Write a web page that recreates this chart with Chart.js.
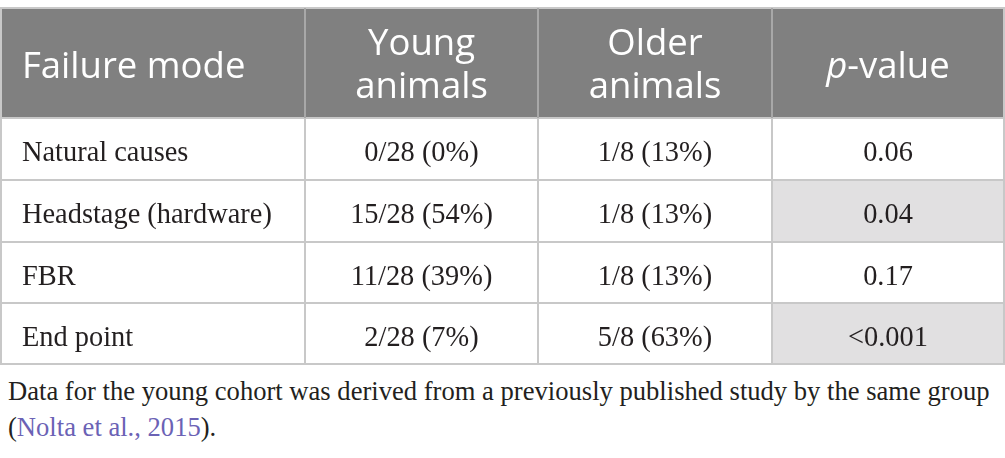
<!DOCTYPE html>
<html>
<head>
<meta charset="utf-8">
<script src="https://cdn.jsdelivr.net/npm/chart.js@4.4.1/dist/chart.umd.min.js"></script>
<style>
  html, body { margin: 0; padding: 0; background: #fff; }
  #wrap { position: relative; width: 1005px; height: 458px; }
  #box { position: absolute; left: 0; top: 0; width: 1005px; height: 372px; }
  #note {
    position: absolute; left: 8px; top: 373px;
    font-family: "Liberation Serif", serif; font-size: 26.6px; line-height: 36px;
    color: #231f20; white-space: nowrap;
  }
  #note a { color: #6b62b5; text-decoration: none; }
</style>
</head>
<body>
<div id="wrap">
  <div id="box"><canvas id="tbl"></canvas></div>
  <div id="note">Data for the young cohort was derived from a previously published study by the same group<br>(<a href="#">Nolta et al., 2015</a>).</div>
</div>
<script>
// table content
const headers = [['Failure mode'], ['Young', 'animals'], ['Older', 'animals'], ['p-value']];
const failureModes = ['Natural causes', 'Headstage (hardware)', 'FBR', 'End point'];
const youngAnimals = ['0/28 (0%)', '15/28 (54%)', '11/28 (39%)', '2/28 (7%)'];
const olderAnimals = ['1/8 (13%)', '1/8 (13%)', '1/8 (13%)', '5/8 (63%)'];
const pValues = ['0.06', '0.04', '0.17', '<0.001'];
const significant = [false, true, false, true];

// layout (in scale units = px of the 1005 wide box)
const colEdges = [1, 305, 538, 772, 1004];
const rowEdges = [8, 118, 180, 242, 303, 364];

const columns = [failureModes, youngAnimals, olderAnimals, pValues];

// one point per cell, sitting at the cell centre
const datasets = columns.map((col, c) => ({
  label: 'col' + c,
  data: [headers[c].join(' ')].concat(col).map((txt, r) => ({
    x: (colEdges[c] + colEdges[c + 1]) / 2,
    y: (rowEdges[r] + rowEdges[r + 1]) / 2,
    text: txt
  })),
  pointRadius: 0,
  pointHoverRadius: 0
}));

const HEAD_FONT = '36.5px "Open Sans"';
const HEAD_FONT_IT = 'italic 36.5px "Open Sans"';
const BODY_FONT = '28.4px "Liberation Serif"';

const tablePlugin = {
  id: 'tablePlugin',
  beforeDatasetsDraw(chart) {
    const { ctx, scales: { x, y } } = chart;
    ctx.save();
    for (let r = 0; r < rowEdges.length - 1; r++) {
      for (let c = 0; c < colEdges.length - 1; c++) {
        const x0 = x.getPixelForValue(colEdges[c]);
        const x1 = x.getPixelForValue(colEdges[c + 1]);
        const y0 = y.getPixelForValue(rowEdges[r]);
        const y1 = y.getPixelForValue(rowEdges[r + 1]);
        let fill = '#ffffff';
        if (r === 0) fill = '#808080';
        else if (c === 3 && significant[r - 1]) fill = '#e1e0e1';
        ctx.fillStyle = fill;
        ctx.fillRect(x0, y0, x1 - x0, y1 - y0);
      }
    }
    // grid lines
    ctx.lineWidth = 2;
    ctx.strokeStyle = '#c8c8c8';
    const left = x.getPixelForValue(colEdges[0]);
    const right = x.getPixelForValue(colEdges[colEdges.length - 1]);
    const top = y.getPixelForValue(rowEdges[0]);
    const bottom = y.getPixelForValue(rowEdges[rowEdges.length - 1]);
    rowEdges.forEach(v => {
      const py = y.getPixelForValue(v);
      ctx.beginPath(); ctx.moveTo(left - 1, py); ctx.lineTo(right + 1, py); ctx.stroke();
    });
    colEdges.forEach((v, i) => {
      const px = x.getPixelForValue(v);
      // header separators look darker on the grey band
      ctx.strokeStyle = (i === 0 || i === colEdges.length - 1) ? '#c8c8c8' : '#a8a8a8';
      ctx.beginPath(); ctx.moveTo(px, top); ctx.lineTo(px, y.getPixelForValue(rowEdges[1])); ctx.stroke();
      ctx.strokeStyle = '#c8c8c8';
      ctx.beginPath(); ctx.moveTo(px, y.getPixelForValue(rowEdges[1])); ctx.lineTo(px, bottom); ctx.stroke();
    });
    ctx.restore();
  },
  afterDatasetsDraw(chart) {
    const { ctx } = chart;
    ctx.save();
    chart.data.datasets.forEach((ds, c) => {
      const meta = chart.getDatasetMeta(c);
      meta.data.forEach((pt, r) => {
        const cx = pt.x, cy = pt.y;
        const tx = c === 0 ? chart.scales.x.getPixelForValue(colEdges[0]) + 21 : cx;
        ctx.textAlign = c === 0 ? 'left' : 'center';
        ctx.textBaseline = 'alphabetic';
        if (r === 0) {
          ctx.fillStyle = '#ffffff';
          const lines = headers[c];
          if (c === 3) {
            ctx.font = HEAD_FONT_IT;
            const wp = ctx.measureText('p').width;
            ctx.font = HEAD_FONT;
            const wr = ctx.measureText('-value').width;
            const sx = cx - (wp + wr) / 2;
            ctx.textAlign = 'left';
            ctx.font = HEAD_FONT_IT;
            ctx.fillText('p', sx, cy + 15);
            ctx.font = HEAD_FONT;
            ctx.fillText('-value', sx + wp, cy + 15);
          } else if (lines.length === 1) {
            ctx.font = HEAD_FONT;
            ctx.fillText(lines[0], tx, cy + 15);
          } else {
            ctx.font = HEAD_FONT;
            ctx.fillText(lines[0], tx, cy - 8);
            ctx.fillText(lines[1], tx, cy + 35);
          }
        } else {
          ctx.fillStyle = '#231f20';
          ctx.font = BODY_FONT;
          ctx.fillText(ds.data[r].text, tx, cy + 12);
        }
      });
    });
    ctx.restore();
  }
};

new Chart(document.getElementById('tbl'), {
  type: 'scatter',
  data: { datasets },
  options: {
    responsive: true,
    maintainAspectRatio: false,
    animation: false,
    events: [],
    layout: { padding: 0 },
    plugins: { legend: { display: false }, tooltip: { enabled: false } },
    scales: {
      x: { type: 'linear', min: 0, max: 1005, display: false },
      y: { type: 'linear', min: 0, max: 372, reverse: true, display: false }
    }
  },
  plugins: [tablePlugin]
});
</script>
</body>
</html>
